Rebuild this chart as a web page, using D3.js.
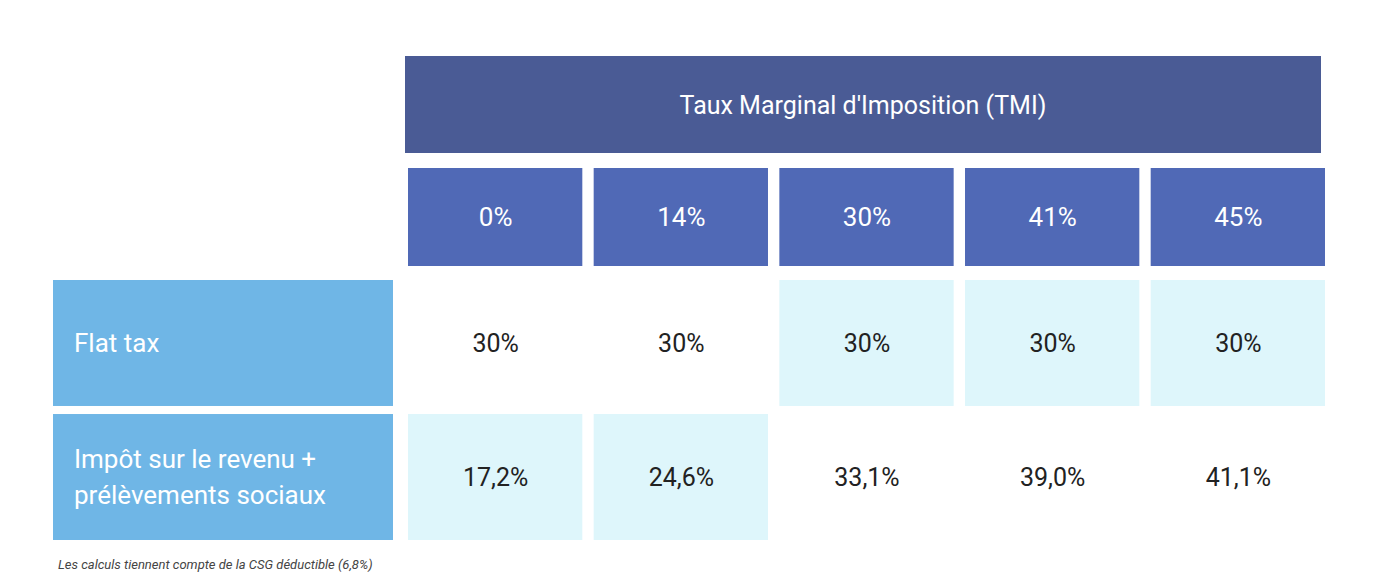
<!DOCTYPE html>
<html><head><meta charset="utf-8">
<script src="https://cdn.jsdelivr.net/npm/d3@7"></script>
<style>body{margin:0;background:#fff;font-family:Roboto,"Noto Sans",sans-serif;}</style>
</head><body>
<script>
// data
var title = "Taux Marginal d'Imposition (TMI)";
var tmi = ["0%", "14%", "30%", "41%", "45%"];
var rowLabels = [["Flat tax"], ["Impôt sur le revenu +", "prélèvements sociaux"]];
var flatTax = ["30%", "30%", "30%", "30%", "30%"];
var impotRevenu = ["17,2%", "24,6%", "33,1%", "39,0%", "41,1%"];
// which cell is the cheaper option, per row
var flatBest = [false, false, true, true, true];
var irBest = [true, true, false, false, false];
var note = "Les calculs tiennent compte de la CSG déductible (6,8%)";

var width = 1378, height = 588;
var svg = d3.select("body").append("svg").attr("width", width).attr("height", height);

var x = d3.scaleBand().domain(d3.range(tmi.length)).range([405, 1325]).paddingInner(0.045);
var rows = [flatTax, impotRevenu], best = [flatBest, irBest];
var y = d3.scaleBand().domain([0, 1]).range([280, 540]).paddingInner(0.06);

//title bar
svg.append("rect").attr("x", 405).attr("y", 56).attr("width", 916).attr("height", 97).attr("fill", "#4a5b95");
svg.append("text").attr("x", 405 + 458).attr("y", 105).attr("dy", "0.35em")
    .attr("text-anchor", "middle").attr("fill", "#fff").style("font-size", "25px").text(title);

//column headers
var hdr = svg.selectAll(".hdr").data(tmi).enter().append("g").attr("class", "hdr");
hdr.append("rect").attr("x", function(d, i){ return x(i) + 3; }).attr("y", 168)
    .attr("width", x.bandwidth() - 3).attr("height", 98).attr("fill", "#5069b6");
hdr.append("text").attr("x", function(d, i){ return x(i) + 2 + x.bandwidth() / 2; }).attr("y", 217).attr("dy", "0.35em")
    .attr("text-anchor", "middle").attr("fill", "#fff").style("font-size", "26px").text(function(d){ return d; });

//row labels
rowLabels.forEach(function(lines, r){
    svg.append("rect").attr("x", 53).attr("y", y(r)).attr("width", 340).attr("height", y.bandwidth()).attr("fill", "#6fb6e6");
    var t = svg.append("text").attr("x", 74).attr("fill", "#fff").style("font-size", "26px");
    var yc = y(r) + y.bandwidth() / 2;
    lines.forEach(function(l, k){
        t.append("tspan").attr("x", 74).attr("y", yc + (k - (lines.length - 1) / 2) * 36).attr("dy", "0.35em").text(l);
    });
});

//cells
rows.forEach(function(vals, r){
    var g = svg.append("g");
    g.selectAll("rect").data(vals).enter().append("rect")
        .attr("x", function(d, i){ return x(i) + 3; }).attr("y", y(r))
        .attr("width", x.bandwidth() - 3).attr("height", y.bandwidth())
        .attr("fill", function(d, i){ return best[r][i] ? "#def6fb" : "#fff"; });
    g.selectAll("text").data(vals).enter().append("text")
        .attr("x", function(d, i){ return x(i) + 2 + x.bandwidth() / 2; }).attr("y", y(r) + y.bandwidth() / 2).attr("dy", "0.35em")
        .attr("text-anchor", "middle").attr("fill", "#222").style("font-size", "25px").text(function(d){ return d; });
});

svg.append("text").attr("x", 58).attr("y", 569).attr("fill", "#444").style("font-size", "13px")
    .style("font-style", "italic").text(note);
</script>
</body></html>
